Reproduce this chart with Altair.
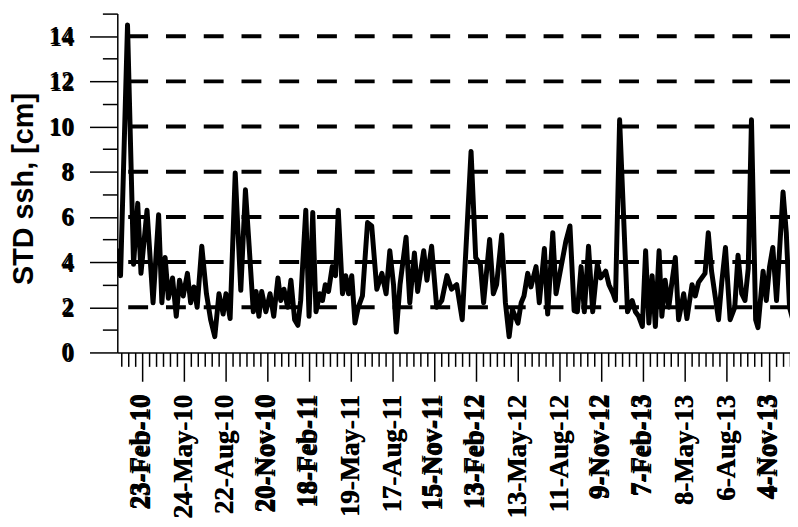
import altair as alt
import pandas as pd

# ---- data (days since 2010-01-01, STD of ssh in cm)
day_offsets = [0, 7, 22, 35, 44, 51, 64, 77, 89, 96, 103, 110, 119, 127, 134, 142, 151, 158, 165, 172,
               182, 192, 201, 210, 219, 228, 234, 243, 254, 266, 276, 284, 293, 299, 305, 311, 320, 329,
               337, 346, 352, 359, 367, 374, 382, 389, 395, 406, 413, 421, 428, 436, 442, 448, 455, 463,
               470, 476, 485, 492, 498, 505, 512, 519, 528, 539, 548, 559, 570, 579, 587, 595, 601, 609,
               622, 630, 640, 647, 660, 667, 677, 688, 699, 710, 720, 731, 743, 762, 772, 782, 789, 802,
               810, 817, 828, 836, 844, 851, 863, 870, 876, 884, 891, 902, 909, 920, 927, 938, 945, 956,
               966, 975, 984, 991, 999, 1006, 1015, 1024, 1034, 1041, 1052, 1059, 1068, 1073, 1082, 1099,
               1109, 1116, 1123, 1131, 1138, 1145, 1152, 1159, 1167, 1173, 1180, 1188, 1194, 1202, 1209,
               1220, 1227, 1238, 1245, 1252, 1266, 1273, 1280, 1287, 1295, 1302, 1310, 1320, 1330, 1337,
               1345, 1352, 1359, 1366, 1375, 1380, 1391, 1398, 1405, 1412, 1420, 1434, 1441, 1448, 1455]
std_cm = [4.6, 3.4, 14.5, 3.9, 6.6, 3.5, 6.3, 2.2, 6.1, 2.2, 4.2, 2.4, 3.3, 1.6, 3.2, 2.5, 3.5, 2.2, 2.9, 2.0,
          4.7, 2.6, 1.45, 0.7, 2.6, 1.7, 2.6, 1.5, 7.95, 2.75, 7.2, 4.7, 1.8, 2.7, 1.6, 2.7, 1.8, 2.6,
          1.6, 3.3, 2.3, 2.8, 2.0, 3.2, 1.45, 1.2, 2.3, 6.3, 1.6, 6.2, 1.8, 2.6, 2.3, 3.0, 2.7, 3.8,
          3.4, 6.3, 2.6, 3.4, 2.6, 3.4, 1.3, 2.0, 2.5, 5.75, 5.6, 2.8, 3.5, 2.6, 4.5, 3.0, 0.9, 3.0,
          5.1, 2.2, 4.4, 2.7, 4.5, 3.2, 4.7, 2.0, 2.3, 3.4, 2.8, 3.0, 1.45, 8.9, 4.2, 3.9, 2.2, 5.0,
          2.6, 3.0, 5.2, 2.2, 0.7, 1.9, 1.3, 2.2, 2.5, 3.5, 2.9, 3.8, 2.2, 4.6, 1.7, 5.3, 2.6, 3.8,
          4.9, 5.6, 1.85, 1.8, 3.8, 1.8, 4.7, 1.8, 3.9, 3.3, 3.6, 3.0, 2.6, 2.3, 10.3, 1.8,
          2.3, 1.8, 1.6, 1.15, 4.5, 1.3, 3.4, 1.15, 4.5, 1.6, 3.2, 2.0, 3.0, 4.2, 1.45,
          2.6, 1.5, 3.0, 2.5, 3.1, 3.5, 5.3, 3.6, 2.6, 1.45, 3.1, 4.65, 1.45, 2.0, 4.3,
          2.6, 2.3, 3.7, 10.3, 1.45, 1.1, 3.6, 2.3, 3.8, 4.65, 2.3, 7.1, 5.3, 2.0, 1.45]

major_tick_labels = ["23-Feb-10", "24-May-10", "22-Aug-10", "20-Nov-10", "18-Feb-11", "19-May-11",
                     "17-Aug-11", "15-Nov-11", "13-Feb-12", "13-May-12", "11-Aug-12", "9-Nov-12",
                     "7-Feb-13", "8-May-13", "6-Aug-13", "4-Nov-13"]
y_ticks = list(range(0, 16))
y_label_values = [0, 2, 4, 6, 8, 10, 12, 14]
y_grid = [2, 4, 6, 8, 10, 12, 14]

start = pd.Timestamp("2010-01-01")
end = pd.Timestamp("2013-12-20")

df = pd.DataFrame({
    "date": [start + pd.Timedelta(days=d) for d in day_offsets],
    "std": std_cm,
})
grid_df = pd.DataFrame({"std": y_grid})
ylab_df = pd.DataFrame({"std": y_label_values, "label": [str(v) for v in y_label_values]})

major_dates = pd.to_datetime(major_tick_labels, format="%d-%b-%y")
xlab_df = pd.DataFrame({"date": major_dates, "label": major_tick_labels})
# labels printed twice (slightly shifted) in the reference
xghost_df = xlab_df[xlab_df["label"].str.contains("Feb|Nov")]
minor_dates = pd.date_range(major_dates[0] - pd.Timedelta(days=45), end, freq="15D")


def dt(t):
    return alt.DateTime(year=int(t.year), month=int(t.month), date=int(t.day))


MAJOR_X = "round((datum.value - datetime(2010, 1, 23)) / 86400000) % 90 == 0"
MAJOR_Y = "datum.value % 2 == 0"

x_axis = alt.Axis(
    values=[dt(t) for t in minor_dates],
    labels=False,
    tickSize={"condition": {"test": MAJOR_X, "value": 29}, "value": 14},
    grid=False,
    title=None,
)

y_axis = alt.Axis(
    values=y_ticks,
    labels=False,
    tickSize={"condition": {"test": MAJOR_Y, "value": 28}, "value": 15},
    grid=False,
    title="STD ssh, [cm]",
    titleFont="Liberation Sans",
    titleFontWeight="bold",
    titleFontSize=29,
    titleColor="black",
    titleAngle=-90,
    titleAlign="center",
    titleBaseline="bottom",
    titleX=-79,
    titleY=176,
)

x_scale = alt.Scale(domain=[dt(start), dt(end)])
y_scale = alt.Scale(domain=[0, 15], nice=False, zero=True)

grid = alt.Chart(grid_df).mark_rule(
    color="black", strokeWidth=4, strokeDash=[20, 18]
).encode(
    y=alt.Y("std:Q", scale=y_scale, axis=y_axis),
)

ytext = dict(align="right", baseline="middle", font="Liberation Serif", fontWeight="bold",
             fontSize=25, color="black")
ylabels = alt.Chart(ylab_df).mark_text(dx=-44, **ytext).encode(
    y=alt.Y("std:Q", scale=y_scale, axis=y_axis), x=alt.value(0), text="label:N")
ylabels_ghost = alt.Chart(ylab_df).mark_text(dx=-43, dy=1.5, **ytext).encode(
    y=alt.Y("std:Q", scale=y_scale, axis=y_axis), x=alt.value(0), text="label:N")

xtext = dict(align="right", baseline="middle", angle=270, font="Liberation Serif",
             fontWeight="bold", fontSize=27, color="black")
xlabels = alt.Chart(xlab_df).mark_text(**xtext).encode(
    x=alt.X("date:T", scale=x_scale, axis=x_axis), y=alt.value(384), text="label:N")
xlabels_thick = alt.Chart(xlab_df).mark_text(dx=0.7, **xtext).encode(
    x=alt.X("date:T", scale=x_scale, axis=x_axis), y=alt.value(384), text="label:N")
xlabels_ghost = alt.Chart(xghost_df).mark_text(dx=1, dy=-2, **xtext).encode(
    x=alt.X("date:T", scale=x_scale, axis=x_axis), y=alt.value(384), text="label:N")

line = alt.Chart(df).mark_line(
    color="black", strokeWidth=5, strokeJoin="round", clip=True
).encode(
    x=alt.X("date:T", scale=x_scale, axis=x_axis),
    y=alt.Y("std:Q", scale=y_scale, axis=y_axis),
)

chart = alt.layer(grid, line, ylabels, ylabels_ghost, xlabels, xlabels_thick, xlabels_ghost).properties(
    width=677,
    height=341,
    autosize=alt.AutoSizeParams(type="none"),
    padding={"left": 110, "top": 4, "right": 0, "bottom": 170},
    background="white",
).configure_view(
    stroke=None
).configure_axis(
    tickColor="black",
    tickWidth=1.5,
    domainColor="black",
    domainWidth=1.5,
)

chart.save("out.html", embed_options={"renderer": "svg", "actions": False})
